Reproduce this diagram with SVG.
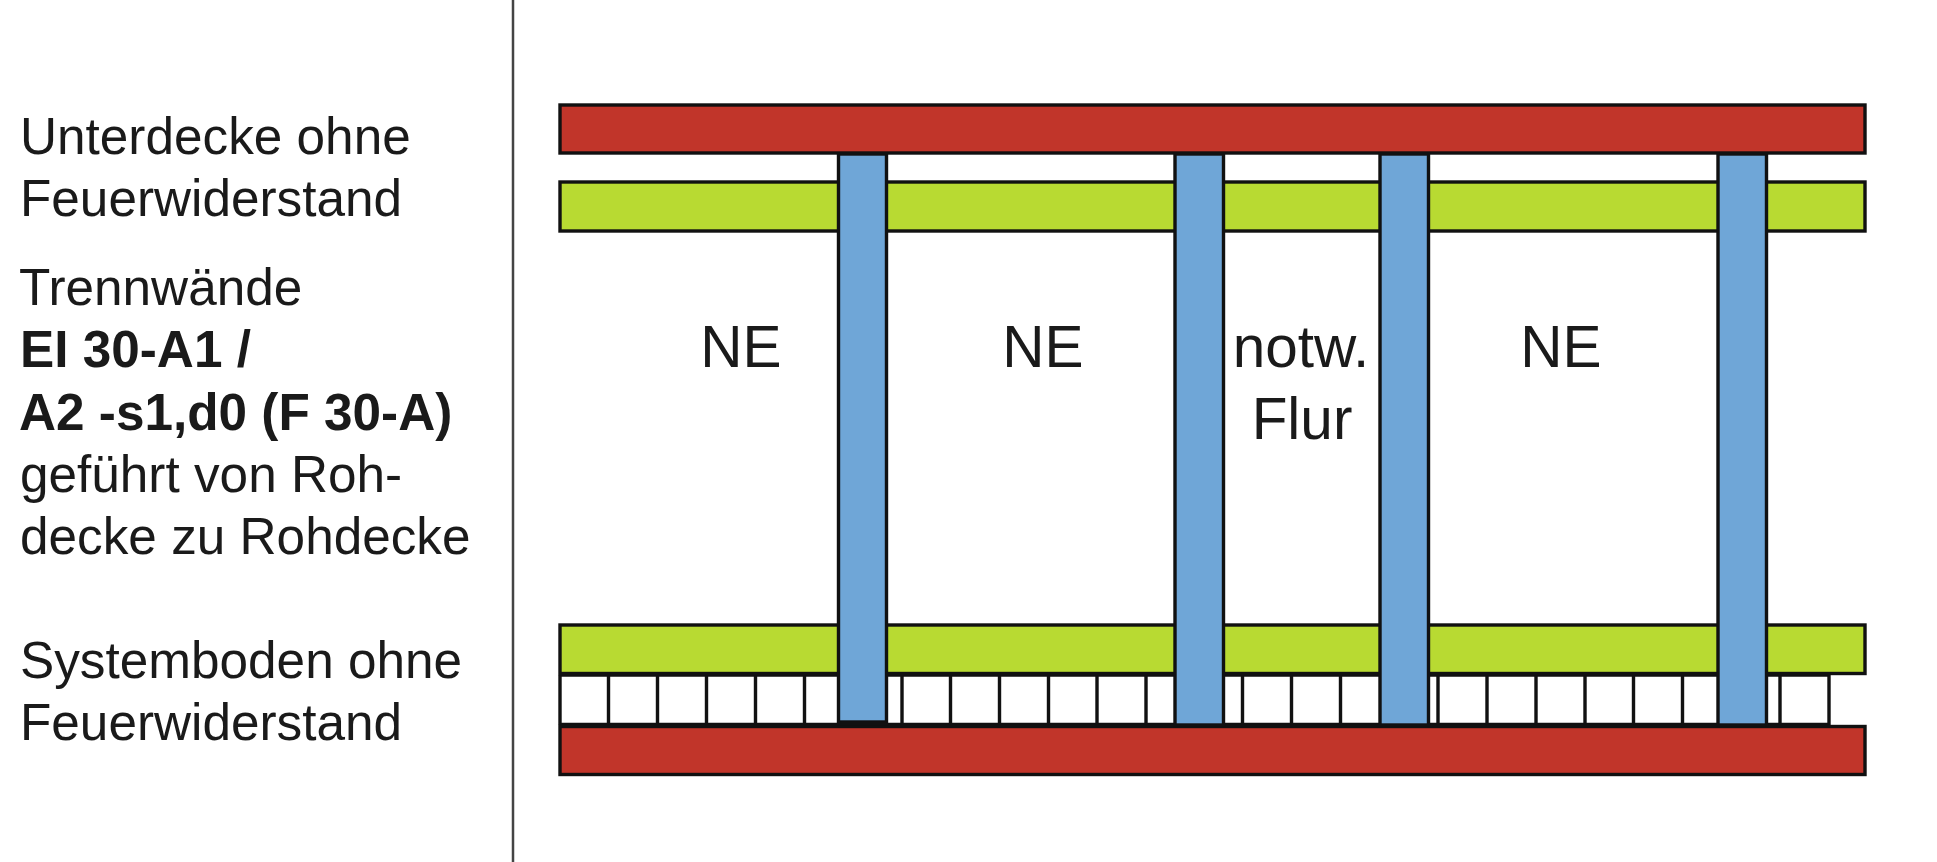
<svg xmlns="http://www.w3.org/2000/svg" width="1937" height="862" viewBox="0 0 1937 862">
<style>
.b{stroke:#111;stroke-width:3.4}
.red{fill:#c1352a}.green{fill:#b8da32}.blue{fill:#6fa6d7}
.c{stroke:#111;stroke-width:3.4;fill:none}
text{font-family:"Liberation Sans",Arial,sans-serif;fill:#1a1a1a}
.l{font-size:51.3px}.bd{font-weight:bold}
.n{font-size:58.5px;text-anchor:middle}
</style>
<rect width="1937" height="862" fill="#fff"/>
<path d="M513 0V862" stroke="#444" stroke-width="2.5"/>
<g id="labels" class="l">
<text x="20" y="153.500">Unterdecke ohne</text>
<text x="20" y="215.500">Feuerwiderstand</text>
<text x="19" y="305">Trennwände</text>
<text x="20" y="367" class="bd">EI 30-A1 /</text>
<text x="19" y="430" class="bd">A2 -s1,d0 (F 30-A)</text>
<text x="20" y="492">geführt von Roh-</text>
<text x="20" y="553.500">decke zu Rohdecke</text>
<text x="20" y="678">Systemboden ohne</text>
<text x="20" y="740">Feuerwiderstand</text>
</g>
<g id="ceiling"><rect class="b red" x="560" y="105" width="1305" height="48"/></g>
<g id="ceiling-lining"><rect class="b green" x="560" y="182" width="1305" height="49"/></g>
<g id="floor-cells">
<rect x="560" y="675" width="1269" height="50" fill="#fff"/>
<path class="c" d="M560 675H1829M560 724.5H1829M560 675V725M608.5 675V725M657.5 675V725M706.5 675V725M755.5 675V725M804.5 675V725M902 675V725M950.5 675V725M999.5 675V725M1048.500 675V725M1097 675V725M1146 675V725M1242.500 675V725M1291.500 675V725M1340.500 675V725M1438 675V725M1487 675V725M1536 675V725M1585 675V725M1633.500 675V725M1682.500 675V725M1780 675V725M1829 675V725"/>
</g>
<g id="floor-panel"><rect class="b green" x="560" y="625" width="1305" height="48.500"/></g>
<g id="slab"><rect class="b red" x="560" y="726.500" width="1305" height="48"/></g>
<g id="walls">
<rect class="b blue" x="838.500" y="154" width="48" height="568"/>
<path d="M837 723.500H888" stroke="#111" stroke-width="4"/>
<rect class="b blue" x="1175" y="154" width="48.500" height="571"/>
<rect class="b blue" x="1380" y="154" width="48.500" height="571"/>
<rect class="b blue" x="1718" y="154" width="48.500" height="571"/>
</g>
<g id="unit-labels">
<text class="n" x="741" y="366.500">NE</text>
<text class="n" x="1043" y="366.500">NE</text>
<text class="n" x="1561" y="366.500">NE</text>
<text class="n" x="1301" y="366.500">notw.</text>
<text class="n" x="1302" y="439">Flur</text>
</g>
</svg>
